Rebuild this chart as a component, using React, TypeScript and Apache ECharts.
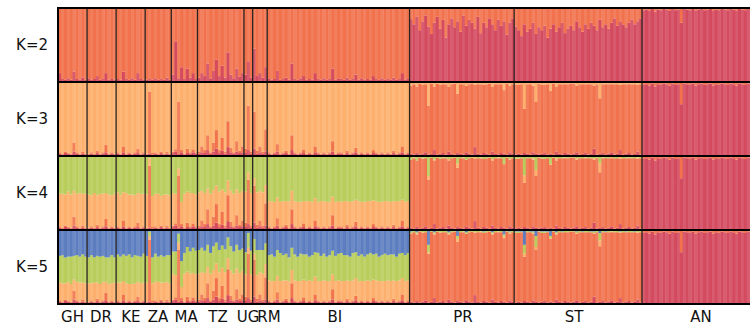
import React, { useEffect, useRef } from "react";
import * as echarts from "echarts";

// Populations (left to right) and number of individuals in each
const populations = ["GH", "DR", "KE", "ZA", "MA", "TZ", "UG", "RM", "BI", "PR", "ST", "AN"];
const popSizes = [10, 10, 10, 9, 9, 16, 3, 5, 49, 36, 44, 42];
// Tick positions for the population labels (in individual-index units)
const labelPositions = [5, 14.8, 25.1, 34.4, 44.1, 55.1, 65.4, 72.6, 95.3, 139.4, 177.6, 221.3];
const panelNames = ["K=2", "K=3", "K=4", "K=5"];

// K=2: crimson (AN-like) ancestry %, remainder is orange
const k2Crimson = [
  [12, 4, 3, 5, 3, 14, 4, 3, 6, 3],
  [5, 3, 4, 8, 3, 4, 12, 3, 4, 3],
  [4, 3, 14, 4, 3, 5, 3, 12, 4, 3],
  [3, 4, 3, 5, 3, 4, 3, 6, 3],
  [10, 55, 5, 20, 4, 18, 6, 12, 4],
  [6, 12, 8, 25, 5, 15, 30, 8, 22, 6, 40, 10, 5, 18, 7, 12],
  [10, 28, 6],
  [45, 8, 12, 6, 20],
  [5, 3, 4, 15, 3, 4, 6, 3, 25, 4, 3, 5, 8, 3, 4, 3, 12, 4, 3, 5, 3, 4, 18, 3, 5, 4, 3, 6, 3, 4, 10, 3, 5, 3, 4, 3, 8, 4, 3, 5, 3, 4, 3, 6, 3, 4, 12, 3, 5],
  [85, 78, 88, 70, 82, 90, 75, 65, 80, 88, 72, 84, 60, 78, 86, 74, 82, 68, 90, 76, 84, 80, 72, 88, 66, 80, 74, 86, 78, 70, 84, 76, 82, 64, 80, 86],
  [75, 70, 62, 78, 68, 72, 80, 65, 74, 70, 76, 60, 72, 78, 68, 74, 80, 66, 72, 76, 70, 82, 74, 68, 78, 72, 80, 76, 70, 84, 74, 78, 72, 80, 86, 76, 82, 78, 74, 80, 84, 78, 82, 86],
  [97, 98, 96, 99, 95, 98, 97, 99, 98, 96, 99, 97, 98, 80, 99, 98, 97, 99, 96, 98, 99, 97, 98, 99, 96, 98, 97, 99, 98, 97, 99, 98, 96, 99, 98, 97, 99, 98, 97, 99, 98, 99],
];

// K=3..5: crimson (AN) ancestry %
const crimsonAnc = [
  [3, 2, 4, 3, 2, 6, 3, 2, 3, 2],
  [2, 3, 2, 4, 2, 3, 5, 2, 3, 2],
  [3, 2, 5, 2, 3, 2, 3, 4, 2, 3],
  [2, 3, 2, 3, 2, 4, 2, 3, 2],
  [4, 6, 3, 5, 2, 4, 3, 5, 3],
  [3, 5, 4, 8, 3, 6, 10, 4, 7, 3, 12, 5, 3, 6, 4, 5],
  [4, 8, 3],
  [10, 3, 5, 3, 6],
  [3, 2, 3, 6, 2, 3, 4, 2, 8, 3, 2, 3, 4, 2, 3, 2, 5, 3, 2, 3, 2, 3, 6, 2, 3, 3, 2, 4, 2, 3, 5, 2, 3, 2, 3, 2, 4, 3, 2, 3, 2, 3, 2, 4, 2, 3, 5, 2, 3],
  [3, 2, 4, 2, 3, 5, 2, 3, 8, 2, 3, 4, 2, 6, 3, 2, 4, 3, 2, 5, 3, 2, 12, 3, 2, 4, 3, 2, 6, 3, 2, 4, 3, 2, 5, 3],
  [2, 3, 2, 4, 3, 2, 5, 3, 2, 3, 4, 2, 3, 2, 6, 3, 2, 4, 3, 2, 3, 5, 2, 3, 4, 2, 3, 10, 2, 3, 4, 2, 3, 5, 2, 3, 8, 2, 3, 4, 2, 3, 6, 2],
  [96, 97, 95, 98, 94, 97, 96, 98, 97, 95, 98, 96, 97, 70, 98, 97, 96, 98, 95, 97, 98, 96, 97, 98, 95, 97, 96, 98, 97, 96, 98, 97, 95, 98, 97, 96, 98, 97, 96, 98, 97, 98],
];

// K=3..5: orange-red (PR/ST) ancestry %
const orangeAnc = [
  [2, 1, 2, 1, 1, 12, 2, 1, 3, 1],
  [1, 2, 1, 3, 1, 2, 10, 1, 2, 1],
  [2, 1, 8, 1, 2, 1, 2, 6, 1, 2],
  [1, 84, 2, 2, 1, 2, 1, 3, 1],
  [2, 3, 70, 3, 1, 6, 2, 4, 2],
  [3, 8, 4, 20, 2, 12, 25, 4, 18, 3, 35, 6, 2, 14, 3, 8],
  [6, 60, 3],
  [50, 4, 8, 3, 30],
  [2, 1, 2, 10, 1, 2, 3, 1, 20, 2, 1, 2, 5, 1, 2, 1, 8, 2, 1, 2, 1, 2, 14, 1, 2, 2, 1, 3, 1, 2, 6, 1, 2, 1, 2, 1, 4, 2, 1, 2, 1, 2, 1, 3, 1, 2, 8, 1, 2],
  [92, 95, 90, 96, 93, 92, 66, 95, 86, 96, 93, 93, 95, 88, 94, 96, 80, 94, 95, 90, 94, 96, 84, 94, 95, 92, 94, 96, 88, 94, 95, 93, 86, 96, 90, 94],
  [94, 93, 95, 60, 94, 95, 90, 70, 96, 93, 92, 95, 85, 96, 88, 94, 95, 93, 94, 96, 95, 90, 95, 94, 93, 95, 94, 85, 95, 75, 93, 95, 94, 92, 95, 94, 88, 95, 94, 93, 95, 94, 90, 95],
  [3, 2, 4, 1, 5, 2, 3, 1, 2, 4, 1, 3, 2, 29, 1, 2, 3, 1, 4, 2, 1, 3, 2, 1, 4, 2, 3, 1, 2, 3, 1, 2, 4, 1, 2, 3, 1, 2, 3, 1, 2, 1],
];

// K=4: light-orange ancestry %, remainder is green
const k4Light = [
  [44, 46, 42, 48, 45, 35, 44, 47, 43, 46],
  [45, 42, 47, 40, 46, 44, 35, 45, 42, 46],
  [46, 44, 38, 47, 43, 45, 42, 40, 46, 44],
  [45, 10, 42, 44, 46, 40, 45, 42, 44],
  [44, 40, 10, 30, 46, 42, 45, 41, 43],
  [45, 40, 42, 28, 44, 36, 25, 44, 30, 45, 20, 42, 44, 35, 43, 40],
  [42, 10, 44],
  [10, 44, 40, 45, 25],
  [34, 36, 33, 28, 35, 34, 32, 36, 25, 34, 35, 33, 30, 36, 34, 35, 30, 33, 36, 34, 35, 33, 25, 35, 34, 33, 36, 32, 35, 34, 30, 36, 33, 35, 34, 36, 32, 34, 35, 33, 36, 34, 35, 32, 36, 34, 28, 35, 34],
  [0, 1, 0, 0, 1, 0, 5, 0, 1, 0, 0, 1, 0, 2, 0, 0, 6, 0, 1, 0, 0, 0, 3, 0, 1, 0, 0, 0, 2, 0, 1, 0, 0, 0, 1, 0],
  [0, 1, 0, 10, 0, 0, 2, 8, 0, 1, 0, 0, 1, 0, 3, 0, 0, 1, 0, 0, 0, 2, 0, 0, 1, 0, 0, 2, 0, 12, 1, 0, 0, 2, 0, 0, 3, 0, 0, 1, 0, 0, 2, 0],
  [0, 0, 0, 0, 0, 0, 0, 0, 0, 0, 0, 0, 0, 0, 0, 0, 0, 0, 0, 0, 0, 0, 0, 0, 0, 0, 0, 0, 0, 0, 0, 0, 0, 0, 0, 0, 0, 0, 0, 0, 0, 0],
];

// K=5: light-orange and green ancestry %, remainder is blue
const k5Light = [
  [24, 25, 22, 26, 24, 15, 25, 26, 23, 25],
  [25, 23, 26, 22, 24, 25, 15, 24, 23, 26],
  [24, 26, 18, 25, 22, 24, 23, 20, 25, 24],
  [26, 5, 24, 25, 27, 23, 26, 24, 25],
  [35, 30, 10, 15, 38, 34, 36, 33, 35],
  [35, 30, 34, 22, 36, 28, 20, 35, 24, 37, 15, 34, 36, 28, 35, 32],
  [30, 8, 34],
  [8, 32, 30, 35, 18],
  [27, 28, 26, 22, 28, 27, 25, 28, 18, 27, 28, 26, 24, 28, 27, 28, 24, 26, 28, 27, 28, 26, 20, 28, 27, 26, 28, 25, 28, 27, 24, 28, 26, 28, 27, 28, 25, 27, 28, 26, 28, 27, 28, 25, 28, 27, 22, 28, 27],
  [1, 0, 1, 0, 1, 0, 2, 0, 1, 0, 1, 0, 0, 1, 0, 0, 4, 0, 1, 0, 0, 0, 1, 0, 1, 0, 0, 0, 1, 0, 1, 0, 2, 0, 1, 0],
  [0, 0, 0, 4, 0, 0, 1, 4, 0, 0, 0, 0, 1, 0, 1, 0, 0, 0, 0, 0, 0, 1, 0, 0, 0, 0, 0, 1, 0, 8, 0, 0, 0, 1, 0, 0, 1, 0, 0, 0, 0, 0, 1, 0],
  [0, 0, 0, 0, 0, 0, 0, 0, 0, 0, 0, 0, 0, 0, 0, 0, 0, 0, 0, 0, 0, 0, 0, 0, 0, 0, 0, 0, 0, 0, 0, 0, 0, 0, 0, 0, 0, 0, 0, 0, 0, 0],
];
const k5Green = [
  [36, 38, 35, 34, 37, 32, 36, 35, 38, 36],
  [35, 38, 34, 36, 37, 35, 33, 36, 38, 34],
  [38, 35, 36, 37, 40, 36, 38, 35, 36, 39],
  [36, 6, 35, 38, 34, 37, 35, 36, 38],
  [30, 32, 12, 35, 28, 33, 30, 34, 32],
  [32, 33, 30, 30, 28, 32, 28, 30, 30, 31, 28, 33, 30, 32, 31, 30],
  [30, 20, 32],
  [20, 34, 30, 32, 28],
  [34, 36, 33, 35, 38, 34, 36, 32, 30, 35, 33, 37, 34, 36, 32, 35, 33, 38, 34, 36, 33, 35, 32, 34, 36, 38, 35, 34, 33, 37, 35, 34, 36, 33, 35, 38, 34, 36, 33, 35, 37, 34, 36, 35, 33, 36, 34, 35, 37],
  [2, 2, 2, 1, 2, 2, 10, 1, 2, 1, 2, 2, 2, 2, 2, 1, 4, 2, 1, 2, 2, 1, 2, 2, 1, 2, 2, 1, 2, 2, 1, 2, 3, 1, 2, 2],
  [2, 2, 1, 12, 2, 1, 2, 15, 1, 2, 2, 1, 3, 1, 2, 2, 1, 2, 2, 1, 1, 2, 2, 1, 2, 2, 1, 2, 2, 10, 2, 1, 2, 1, 2, 2, 1, 2, 1, 2, 2, 1, 2, 2],
  [1, 1, 1, 1, 1, 1, 1, 1, 1, 1, 1, 1, 1, 1, 1, 1, 1, 1, 1, 1, 1, 1, 1, 1, 1, 1, 1, 1, 1, 1, 1, 1, 1, 1, 1, 1, 1, 1, 1, 1, 1, 1],
];

const C_CRIMSON = "#d44a5f";
const C_ORANGE = "#f1724d";
const C_LIGHT = "#fdb06d";
const C_GREEN = "#b8cd5b";
const C_BLUE = "#5c7dbf";

const TOTAL = 243;
const PX_PER_IND = 2.9055;

function stackRow(parts: number[]): number[] {
  let cum = 0;
  const out: number[] = [];
  for (const p of parts) {
    const v = Math.max(0, Math.min(p, 100 - cum));
    out.push(v);
    cum += v;
  }
  out.push(Math.max(0, 100 - cum));
  return out;
}

export default function App() {
  const ref = useRef<HTMLDivElement>(null);
  useEffect(() => {
    if (!ref.current) return;
    const chart = echarts.init(ref.current, null, { renderer: "svg" });

    const k2 = k2Crimson.flat();
    const cr = crimsonAnc.flat();
    const or = orangeAnc.flat();
    const l4 = k4Light.flat();
    const l5 = k5Light.flat();
    const g5 = k5Green.flat();
    const n = k2.length;

    const panels = [
      { colors: [C_CRIMSON, C_ORANGE], rows: [] as number[][] },
      { colors: [C_CRIMSON, C_ORANGE, C_LIGHT], rows: [] as number[][] },
      { colors: [C_CRIMSON, C_ORANGE, C_LIGHT, C_GREEN], rows: [] as number[][] },
      { colors: [C_CRIMSON, C_ORANGE, C_LIGHT, C_GREEN, C_BLUE], rows: [] as number[][] },
    ];
    for (let i = 0; i < n; i++) {
      panels[0].rows.push([i, ...stackRow([k2[i]])]);
      panels[1].rows.push([i, ...stackRow([cr[i], or[i]])]);
      panels[2].rows.push([i, ...stackRow([cr[i], or[i], l4[i]])]);
      panels[3].rows.push([i, ...stackRow([cr[i], or[i], l5[i], g5[i]])]);
    }

    const boundaries: number[] = [];
    let acc = 0;
    for (let p = 0; p < popSizes.length - 1; p++) {
      acc += popSizes[p];
      boundaries.push(acc);
    }

    const gridTop = 8;
    const panelH = 74;
    const grids = panels.map((_, k) => ({
      left: 58,
      top: gridTop + k * panelH,
      width: TOTAL * PX_PER_IND,
      height: panelH,
      show: true,
      z: 10,
      backgroundColor: "transparent",
      borderColor: "#000",
      borderWidth: 2,
    }));

    const xAxes = panels.map((_, k) => ({
      type: "value",
      gridIndex: k,
      min: 0,
      max: TOTAL,
      show: false,
    }));

    const yAxes = panels.map((_, k) => ({
      type: "value",
      gridIndex: k,
      min: 0,
      max: 100,
      axisLine: { show: false },
      axisTick: { show: false },
      splitLine: { show: false },
      axisLabel: { show: false },
      name: panelNames[k],
      nameLocation: "middle",
      nameRotate: 0,
      nameGap: 10,
      nameTextStyle: {
        fontFamily: "DejaVu Sans",
        fontSize: 15,
        color: "#111",
        align: "right",
        verticalAlign: "middle",
      },
    }));

    const series: any[] = [];
    panels.forEach((panel, k) => {
      const colors = panel.colors;
      series.push({
        type: "custom",
        xAxisIndex: k,
        yAxisIndex: k,
        data: panel.rows,
        encode: { x: 0, y: 1 },
        renderItem: (params: any, api: any) => {
          const i = api.value(0);
          const w = api.size([1, 0])[0];
          let cum = 0;
          const children: any[] = [];
          for (let c = 0; c < colors.length; c++) {
            const v = api.value(c + 1);
            if (v > 0) {
              const top = api.coord([i, cum + v]);
              const bot = api.coord([i, cum]);
              children.push({
                type: "rect",
                shape: { x: bot[0], y: top[1], width: w + 0.35, height: bot[1] - top[1] },
                style: { fill: colors[c], opacity: i % 2 === 0 ? 1 : 0.9 },
              });
            }
            cum += v;
          }
          return { type: "group", children };
        },
      });
      series.push({
        type: "custom",
        xAxisIndex: k,
        yAxisIndex: k,
        data: boundaries.map((b) => [b]),
        encode: { x: 0 },
        z: 5,
        renderItem: (params: any, api: any) => {
          const b = api.value(0);
          const p0 = api.coord([b, 0]);
          const p1 = api.coord([b, 100]);
          return {
            type: "line",
            shape: { x1: p0[0], y1: p0[1], x2: p1[0], y2: p1[1] },
            style: { stroke: "#2a2420", lineWidth: 1.3 },
          };
        },
      });
    });

    // population labels under the last panel, placed through the axis scale
    series.push({
      type: "custom",
      xAxisIndex: 3,
      yAxisIndex: 3,
      clip: false,
      data: labelPositions.map((p, i) => [p, i]),
      encode: { x: 0 },
      z: 20,
      renderItem: (params: any, api: any) => {
        const p = api.value(0);
        const idx = api.value(1);
        const pt = api.coord([p, 0]);
        return {
          type: "text",
          x: pt[0],
          y: pt[1] + 5,
          style: {
            text: populations[idx],
            fill: "#111",
            font: "15px 'DejaVu Sans'",
            align: "center",
            verticalAlign: "top",
          },
        };
      },
    });

    chart.setOption({
      animation: false,
      backgroundColor: "#fff",
      grid: grids,
      xAxis: xAxes,
      yAxis: yAxes,
      series,
    } as any);

    return () => chart.dispose();
  }, []);

  return (
    <div
      style={{
        position: "fixed",
        left: 0,
        top: 0,
        width: 750,
        height: 329,
        overflow: "hidden",
        background: "#fff",
      }}
    >
      <div ref={ref} style={{ width: 780, height: 329 }} />
    </div>
  );
}
